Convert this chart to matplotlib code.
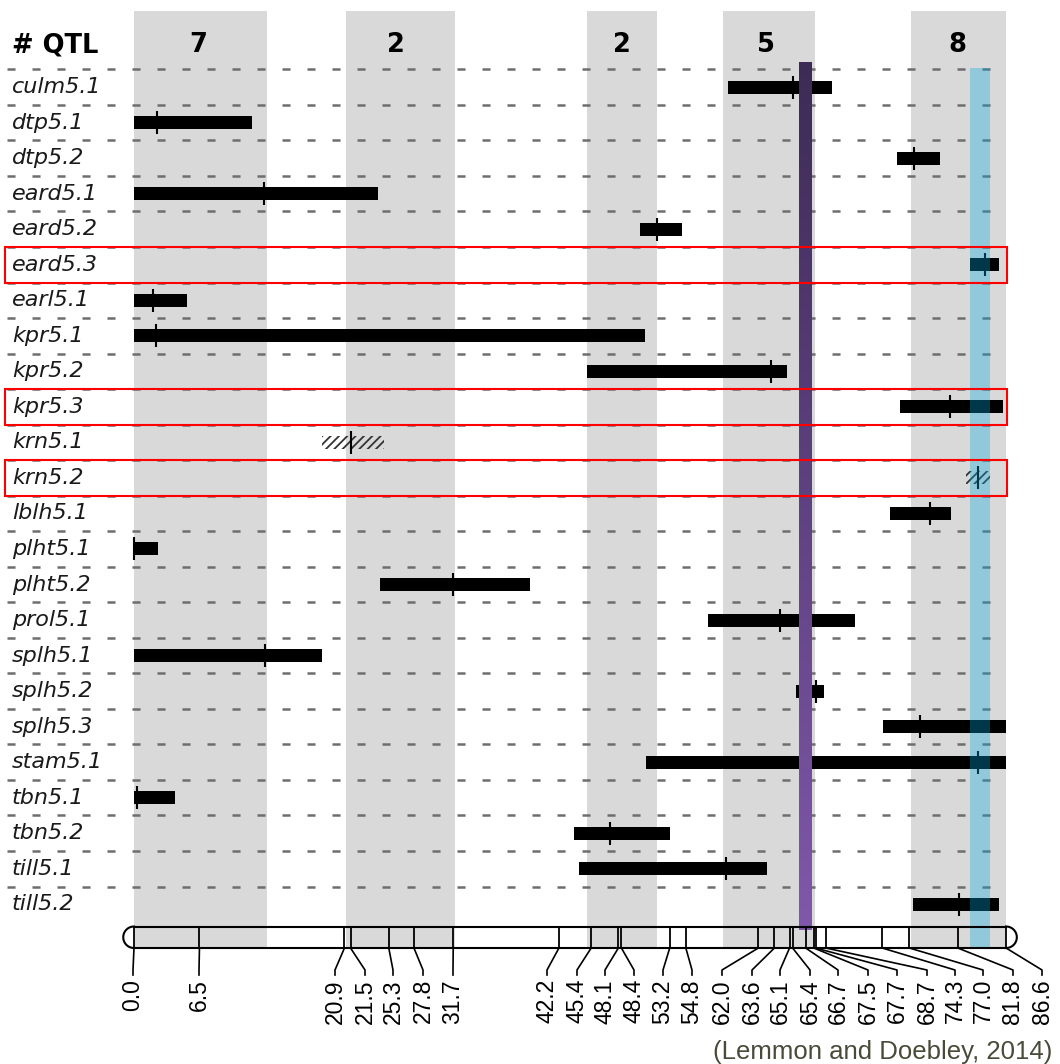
import numpy as np
import matplotlib.pyplot as plt
from matplotlib.patches import Rectangle
from matplotlib.colors import LinearSegmentedColormap

plt.rcParams['lines.scale_dashes'] = False
plt.rcParams['hatch.linewidth'] = 1.3

# QTL intervals on chromosome 5 (cM)
qtl_names = ['culm5.1', 'dtp5.1', 'dtp5.2', 'eard5.1', 'eard5.2', 'eard5.3',
             'earl5.1', 'kpr5.1', 'kpr5.2', 'kpr5.3', 'krn5.1', 'krn5.2',
             'lblh5.1', 'plht5.1', 'plht5.2', 'prol5.1', 'splh5.1', 'splh5.2',
             'splh5.3', 'stam5.1', 'tbn5.1', 'tbn5.2', 'till5.1', 'till5.2']
qtl_start = [59.0, 0.0, 75.8, 0.0, 50.2, 83.0, 0.0, 0.0, 45.0, 76.1, 18.7, 82.6,
             75.1, 0.0, 24.4, 57.0, 0.0, 65.7, 74.4, 50.8, 0.0, 43.7, 44.2, 77.4]
qtl_end = [69.3, 11.7, 80.0, 24.2, 54.4, 85.9, 5.3, 50.7, 64.8, 86.3, 24.8, 85.0,
           81.1, 2.4, 39.3, 71.6, 18.7, 68.5, 86.6, 86.6, 4.1, 53.2, 62.9, 85.9]
qtl_peak = [65.4, 2.3, 77.5, 12.9, 51.9, 84.5, 1.9, 2.2, 63.3, 81.0, 21.5, 83.8,
            79.0, 0.0, 31.7, 64.2, 13.0, 67.7, 78.1, 83.8, 0.3, 47.3, 58.8, 81.9]
hatched = ['krn5.1', 'krn5.2']
boxed = ['eard5.3', 'kpr5.3', 'krn5.2']

# QTL hotspot bins
band_start = [0.0, 21.1, 45.0, 58.5, 77.2]
band_end = [13.2, 31.9, 51.9, 67.6, 86.6]
band_count = [7, 2, 2, 5, 8]

# chromosome markers
marker_pos = [0.0, 6.5, 20.9, 21.5, 25.3, 27.8, 31.7, 42.2, 45.4, 48.1, 48.4,
              53.2, 54.8, 62.0, 63.6, 65.1, 65.4, 66.7, 67.5, 67.7, 68.7,
              74.3, 77.0, 81.8, 86.6]

peak_line = 66.6
focus_start, focus_end = 83.0, 85.0

# layout (pixels)
PX_PER_CM = 10.07
X0_PX = 134
W, H = 1060, 1064
ROW0, ROW_H = 87.1, 35.53
BAR_H = 13
label_px = [133, 199, 335, 365, 393, 423, 453, 547, 577, 605, 634, 663, 692,
            722, 752, 780, 810, 838, 868, 897, 927, 955, 983, 1013, 1042]
count_px = [198, 396, 622, 766, 957]


def cm(px):
    return (px - X0_PX) / PX_PER_CM


fig = plt.figure(figsize=(10.6, 10.64), dpi=100)
ax = fig.add_axes([0, 0, 1, 1])
ax.axis('off')

chr_end = marker_pos[-1]
chr_top, chr_bot = 926.5, 948

# gray bins and counts
for s, e, c, cx in zip(band_start, band_end, band_count, count_px):
    ax.add_patch(Rectangle((s, 10.7), e - s, chr_bot - 10.7, color='#d9d9d9', lw=0, zorder=0))
    ax.text(cm(cx), 45, str(c), ha='center', va='center', fontsize=18.5,
            fontweight='bold')
ax.text(cm(12), 45, '# QTL', ha='left', va='center', fontsize=18.5, fontweight='bold')

rows_y = ROW0 + ROW_H * np.arange(len(qtl_names))

# dashed row separators
for y in rows_y:
    ax.plot([cm(7), chr_end], [y - ROW_H / 2] * 2, color='#6e6e6e', lw=1.8,
            dashes=(5.8, 12.2), zorder=1)

# QTL bars
for name, y, s, e, p in zip(qtl_names, rows_y, qtl_start, qtl_end, qtl_peak):
    if name in hatched:
        ax.barh(y, e - s, left=s, height=BAR_H, facecolor='none', edgecolor='#333333',
                hatch='////', lw=0, zorder=2)
    else:
        ax.barh(y, e - s, left=s, height=BAR_H, color='black', zorder=2)
    ax.vlines(p, y - 11.5, y + 11.5, color='black', lw=1.5, zorder=3)
    ax.text(cm(12), y, name, ha='left', va='center', fontsize=16, style='italic',
            color='#1a1a1a')
    if name in boxed:
        ax.add_patch(Rectangle((cm(5), y - ROW_H / 2), cm(1007) - cm(5), ROW_H,
                               fill=False, edgecolor='#ff0000', lw=1.5, zorder=6))

# focus interval
ax.add_patch(Rectangle((focus_start, 68.3), focus_end - focus_start, chr_bot - 68.3,
                       color='#00aadf', alpha=0.33, lw=0, zorder=4))

# purple peak line with gradient
purple = LinearSegmentedColormap.from_list('pp', ['#3d2b55', '#8058ab'])
grad = np.linspace(0, 1, 256).reshape(-1, 1)
ax.imshow(grad, extent=[peak_line - 0.6, peak_line + 0.6, 930, 62], aspect='auto',
          cmap=purple, zorder=5)

# chromosome
ax.plot([0, chr_end], [chr_top, chr_top], color='black', lw=1.5, zorder=7)
ax.plot([0, chr_end], [chr_bot, chr_bot], color='black', lw=1.5, zorder=7)
r = (chr_bot - chr_top) / 2
mid = (chr_top + chr_bot) / 2
t = np.linspace(np.pi / 2, 3 * np.pi / 2, 50)
ax.plot(r * np.cos(t) / PX_PER_CM, mid - r * np.sin(t), color='black', lw=1.5, zorder=7)
ax.plot(chr_end - r * np.cos(t) / PX_PER_CM, mid - r * np.sin(t), color='black', lw=1.5, zorder=7)
ax.vlines(marker_pos, chr_top, chr_bot, color='black', lw=1.3, zorder=7)

for pos, lx in zip(marker_pos, label_px):
    ax.plot([pos, cm(lx), cm(lx)], [chr_bot, 970, 975], color='black', lw=1.2, zorder=7)
    ax.text(cm(lx), 979, f'{pos:.1f}', rotation=90, ha='center', va='top',
            fontsize=16.5, family='Liberation Sans')

ax.text(cm(1052), 1059, '(Lemmon and Doebley, 2014)', ha='right', va='baseline',
        fontsize=18.5, color='#4a4a3a', family='Liberation Sans')

ax.set_xlim(-X0_PX / PX_PER_CM, (W - X0_PX) / PX_PER_CM)
ax.set_ylim(H, 0)
fig.savefig('out.png', dpi=100)
